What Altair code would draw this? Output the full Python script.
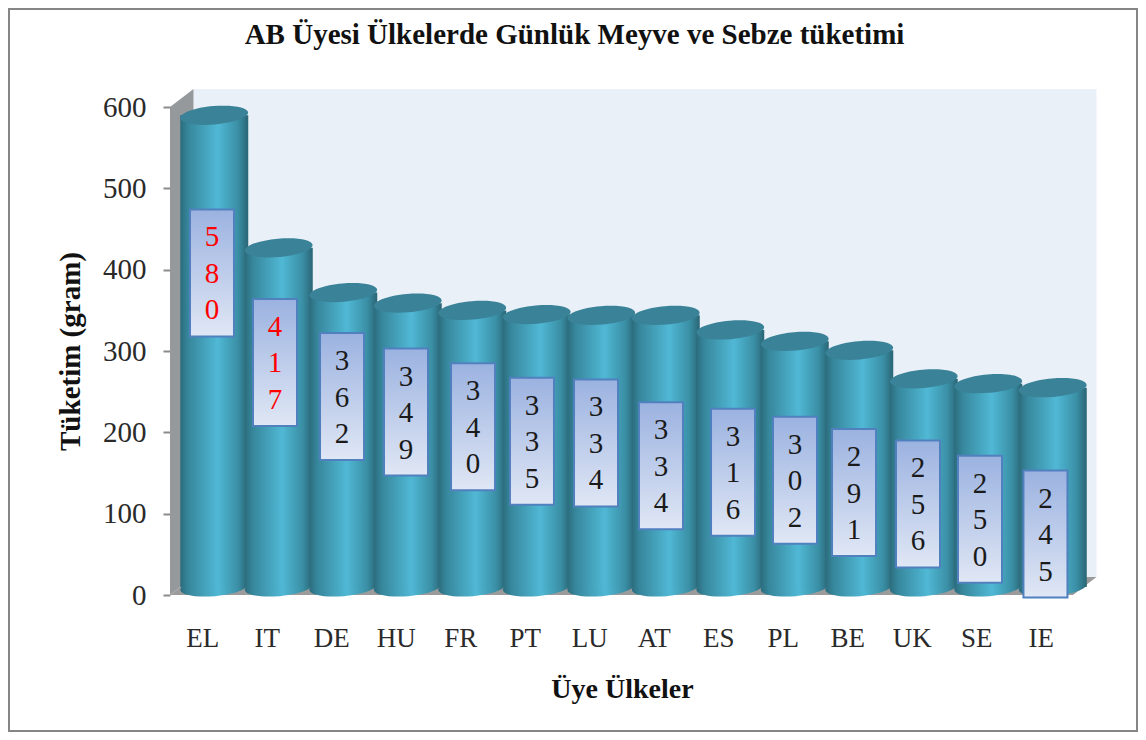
import altair as alt
import pandas as pd

countries = ["EL", "IT", "DE", "HU", "FR", "PT", "LU", "AT", "ES", "PL", "BE", "UK", "SE", "IE"]
values = [580, 417, 362, 349, 340, 335, 334, 334, 316, 302, 291, 256, 250, 245]
# where the hand-moved data-label boxes sit, in axis units
label_x = [0.151, 1.128, 2.167, 3.159, 4.198, 5.112, 6.105, 7.112, 8.229, 9.19, 10.105, 11.097, 12.058, 13.073]
label_y = [396, 286, 244, 225, 207, 189, 187, 159, 151, 141, 126, 112, 93, 75]

PX = 64.5              # pixels per category
PY = 488 / 600         # pixels per gram
W, H = 1130, 724
PLOT_W, PLOT_H = 903, 488
LEFT, TOP = 162, 99

xs = alt.Scale(domain=[-0.5, 13.5], nice=False, zero=False)
ys = alt.Scale(domain=[0, 600], nice=False)

dx3d = 12 / PX
dy3d = 8 / PY
half = 34 / PX
box_w = 22 / PX
box_h = 63.5 / PY
wall_x = 23.5 / PX
wall_y = 18 / PY

df = pd.DataFrame({"country": countries, "value": values, "i": range(len(countries))})
df["cx"] = df["i"] + dx3d
df["x0"] = df["cx"] - half
df["x1"] = df["cx"] + half
df["top"] = df["value"] + dy3d
df["base"] = dy3d
df["lx"] = label_x
df["ly"] = label_y
df["lx0"] = df["lx"] - box_w
df["lx1"] = df["lx"] + box_w
df["ly0"] = df["ly"] - box_h
df["ly1"] = df["ly"] + box_h
df["label"] = [("\n".join(str(v))) for v in values]
df["tcolor"] = ["#ff0000" if v > 400 else "#1a1a1a" for v in values]

serif = "Liberation Serif"

body_grad = alt.Gradient(
    gradient="linear", x1=0, x2=1, y1=0, y2=0,
    stops=[
        alt.GradientStop(offset=0, color="#2b6c7d"),
        alt.GradientStop(offset=0.12, color="#37879c"),
        alt.GradientStop(offset=0.55, color="#50b8d5"),
        alt.GradientStop(offset=0.85, color="#3a8fa5"),
        alt.GradientStop(offset=1, color="#2a6575"),
    ],
)
box_grad = alt.Gradient(
    gradient="linear", x1=0, x2=0, y1=0, y2=1,
    stops=[
        alt.GradientStop(offset=0, color="#9bb2e0"),
        alt.GradientStop(offset=1, color="#e0e7f5"),
    ],
)
ELLIPSE = "M -1 0 A 1 0.27 0 1 1 1 0 A 1 0.27 0 1 1 -1 0 Z"

# Frame
frame = alt.Chart(alt.Data(values=[{}])).mark_rect(
    fillOpacity=0, stroke="#868686", strokeWidth=2
).encode(
    x=alt.value(-LEFT + 1), x2=alt.value(W - LEFT - 1),
    y=alt.value(-TOP + 1), y2=alt.value(H - TOP - 1),
)

# Back wall
back = alt.Chart(pd.DataFrame({"a": [-0.5 + wall_x], "b": [13.5 + wall_x], "c": [wall_y], "d": [600 + wall_y]})).mark_rect(
    fill="#e9f0f8"
).encode(
    x=alt.X("a:Q", scale=xs, axis=None), x2="b:Q",
    y=alt.Y("c:Q", scale=ys, axis=None), y2="d:Q",
)

# Side wall
side = alt.Chart(pd.DataFrame({
    "x": [-0.5, -0.5 + wall_x], "y": [600, 600 + wall_y], "y2": [0, wall_y],
})).mark_area(color="#96999c").encode(
    x=alt.X("x:Q", scale=xs, axis=None),
    y=alt.Y("y:Q", scale=ys, axis=None, stack=None),
    y2="y2:Q",
)

# Floor
floor = alt.Chart(pd.DataFrame({
    "x": [-0.5, -0.5 + wall_x, 13.5, 13.5 + wall_x],
    "y": [0, wall_y, wall_y, wall_y],
    "y2": [0, 0, 0, wall_y],
})).mark_area(color="#9b9b9b").encode(
    x=alt.X("x:Q", scale=xs, axis=None),
    y=alt.Y("y:Q", scale=ys, axis=None, stack=None),
    y2="y2:Q",
)

base = alt.Chart(df)

# Axes carried by an invisible layer
axes = base.mark_point(opacity=0).encode(
    x=alt.X("i:Q", scale=xs, axis=alt.Axis(
        values=list(range(14)),
        labelExpr="['" + "','".join(countries) + "'][datum.value]",
        grid=False, domain=False, ticks=False,
        labelFont=serif, labelFontSize=27, labelColor="#2a2a2a", labelPadding=43,
        labelAngle=0, labelBaseline="middle",
        title="Üye Ülkeler", titleFont=serif, titleFontSize=28, titleFontWeight="bold",
        titleColor="#111111", titleX=452, titleY=94, titleBaseline="middle",
    )),
    y=alt.Y("value:Q", scale=ys, axis=alt.Axis(
        values=[0, 100, 200, 300, 400, 500, 600],
        grid=False, domain=False, ticks=True, tickSize=7, tickWidth=2, tickColor="#8a8a8a",
        labelFont=serif, labelFontSize=29, labelColor="#2a2a2a", labelPadding=17,
        title="Tüketim (gram)", titleFont=serif, titleFontSize=29, titleFontWeight="bold",
        titleColor="#111111", titleX=-100, titleY=244, titleBaseline="middle",
    )),
)

sz = 68 ** 2
bottoms = base.mark_point(shape=ELLIPSE, filled=True, fill=body_grad, opacity=1, size=sz, strokeWidth=0, angle=355).encode(
    x=alt.X("cx:Q", scale=xs, axis=None), y=alt.Y("base:Q", scale=ys, axis=None),
)
bodies = base.mark_rect(fill=body_grad).encode(
    x=alt.X("x0:Q", scale=xs, axis=None), x2="x1:Q",
    y=alt.Y("top:Q", scale=ys, axis=None), y2="base:Q",
)
tops = base.mark_point(shape=ELLIPSE, filled=True, fill="#3a8297", opacity=1, size=sz, strokeWidth=0, angle=355).encode(
    x=alt.X("cx:Q", scale=xs, axis=None), y=alt.Y("top:Q", scale=ys, axis=None),
)
boxes = base.mark_rect(fill=box_grad, stroke="#5180bf", strokeWidth=2).encode(
    x=alt.X("lx0:Q", scale=xs, axis=None), x2="lx1:Q",
    y=alt.Y("ly0:Q", scale=ys, axis=None), y2="ly1:Q",
)
labels = base.mark_text(
    font=serif, fontSize=29, lineBreak="\n", lineHeight=36.5, align="center", baseline="middle", dy=-35.5
).encode(
    x=alt.X("lx:Q", scale=xs, axis=None), y=alt.Y("ly:Q", scale=ys, axis=None),
    text="label:N", color=alt.Color("tcolor:N", scale=None),
)

chart = alt.layer(
    frame, back, side, floor, axes, bottoms, bodies, tops, boxes, labels
).resolve_axis(x="independent", y="independent").properties(
    width=PLOT_W, height=PLOT_H,
    title=alt.TitleParams(
        text="AB Üyesi Ülkelerde Günlük Meyve ve Sebze tüketimi",
        font=serif, fontSize=29, fontWeight="bold", color="#111111",
        anchor="middle", dx=-47, offset=-56, baseline="middle",
    ),
    padding={"left": LEFT, "top": TOP, "right": W - LEFT - PLOT_W, "bottom": H - TOP - PLOT_H},
    autosize=alt.AutoSizeParams(type="none"),
).configure_view(stroke=None)

chart.save("out.html", embed_options={"renderer": "svg", "actions": False})
